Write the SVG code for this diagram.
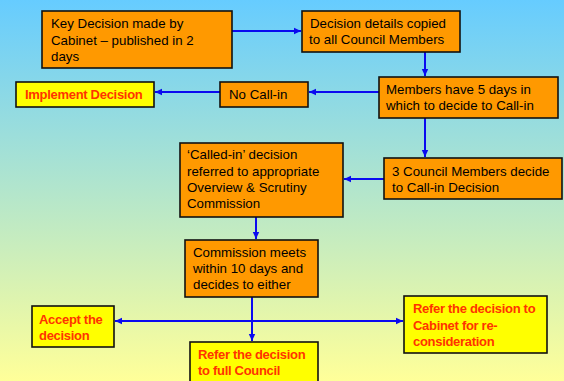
<svg xmlns="http://www.w3.org/2000/svg" width="564" height="381" viewBox="0 0 564 381">
<defs>
<linearGradient id="bg" x1="0" y1="0" x2="0" y2="1">
<stop offset="0" stop-color="#66CCFF"/>
<stop offset="1" stop-color="#FFFF99"/>
</linearGradient>
<marker id="ah" markerUnits="userSpaceOnUse" markerWidth="8" markerHeight="8" refX="7" refY="4" orient="auto">
<path d="M0,0.8 L7,4 L0,7.2 Z" fill="#0A0AF0"/>
</marker>
<style>
.o{fill:#FF9900;stroke:#111;stroke-width:1.6}
.y{fill:#FFFF00;stroke:#111;stroke-width:1.6}
.t{font-family:"Liberation Sans",Arial,sans-serif;font-size:13.3px;fill:#000}
.r{font-family:"Liberation Sans",Arial,sans-serif;font-size:13px;font-weight:bold;fill:#FF3300;letter-spacing:-0.3px}
.c{stroke:#0A0AF0;stroke-width:2;fill:none}
</style>
</defs>
<rect x="0" y="0" width="564" height="381" fill="url(#bg)"/>
<g id="connectors">
<line class="c" x1="232" y1="31" x2="301" y2="31" marker-end="url(#ah)"/>
<line class="c" x1="425" y1="52" x2="425" y2="76" marker-end="url(#ah)"/>
<line class="c" x1="379" y1="92" x2="309" y2="92" marker-end="url(#ah)"/>
<line class="c" x1="220" y1="92" x2="155" y2="92" marker-end="url(#ah)"/>
<line class="c" x1="425" y1="118" x2="425" y2="157" marker-end="url(#ah)"/>
<line class="c" x1="384" y1="179" x2="344" y2="179" marker-end="url(#ah)"/>
<line class="c" x1="256" y1="217" x2="256" y2="239" marker-end="url(#ah)"/>
<line class="c" x1="252" y1="297" x2="252" y2="341" marker-end="url(#ah)"/>
<line class="c" x1="252" y1="321" x2="115" y2="321" marker-end="url(#ah)"/>
<line class="c" x1="252" y1="321" x2="403" y2="321" marker-end="url(#ah)"/>
</g>
<g id="key-decision">
<rect class="o" x="42" y="11" width="190" height="57"/>
<text class="t"><tspan x="51" y="28">Key Decision made by</tspan><tspan x="51" y="45">Cabinet – published in 2</tspan><tspan x="51" y="61">days</tspan></text>
</g>
<g id="details-copied">
<rect class="o" x="302" y="11" width="158" height="41"/>
<text class="t"><tspan x="310" y="28">Decision details copied</tspan><tspan x="309" y="44">to all Council Members</tspan></text>
</g>
<g id="five-days">
<rect class="o" x="379" y="77" width="179" height="41"/>
<text class="t"><tspan x="386" y="94">Members have 5 days in</tspan><tspan x="386" y="110">which to decide to Call-in</tspan></text>
</g>
<g id="no-call-in">
<rect class="o" x="220" y="82" width="88" height="25"/>
<text class="t" x="229" y="99">No Call-in</text>
</g>
<g id="implement">
<rect class="y" x="16" y="82" width="138" height="25"/>
<text class="r" x="25" y="99">Implement Decision</text>
</g>
<g id="three-members">
<rect class="o" x="384" y="158" width="178" height="41"/>
<text class="t"><tspan x="392" y="176">3 Council Members decide</tspan><tspan x="392" y="192">to Call-in Decision</tspan></text>
</g>
<g id="called-in">
<rect class="o" x="180" y="143" width="163" height="74"/>
<text class="t"><tspan x="187" y="159">‘Called-in’ decision</tspan><tspan x="187" y="176">referred to appropriate</tspan><tspan x="187" y="192">Overview &amp; Scrutiny</tspan><tspan x="187" y="208">Commission</tspan></text>
</g>
<g id="commission-meets">
<rect class="o" x="185" y="240" width="133" height="57"/>
<text class="t"><tspan x="193" y="257">Commission meets</tspan><tspan x="193" y="273">within 10 days and</tspan><tspan x="193" y="289">decides to either</tspan></text>
</g>
<g id="accept">
<rect class="y" x="32" y="306" width="82" height="41"/>
<text class="r"><tspan x="39" y="324">Accept the</tspan><tspan x="39" y="340">decision</tspan></text>
</g>
<g id="full-council">
<rect class="y" x="190" y="342" width="128" height="50"/>
<text class="r"><tspan x="198" y="359">Refer the decision</tspan><tspan x="198" y="375">to full Council</tspan></text>
</g>
<g id="cabinet">
<rect class="y" x="404" y="296" width="143" height="57"/>
<text class="r"><tspan x="413" y="313">Refer the decision to</tspan><tspan x="413" y="330">Cabinet for re-</tspan><tspan x="413" y="346">consideration</tspan></text>
</g>
</svg>
